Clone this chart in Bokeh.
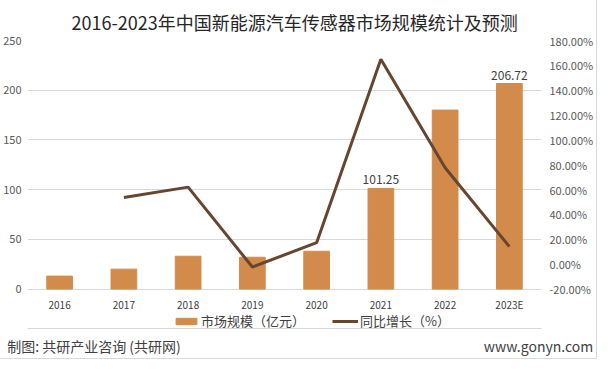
from bokeh.plotting import figure
from bokeh.models import (Range1d, LinearAxis, CategoricalAxis, FixedTicker, PrintfTickFormatter,
                          Legend, LegendItem, ColumnDataSource, FactorRange)
from bokeh.core.properties import value
from bokeh.embed import file_html
from bokeh.resources import INLINE

# ---- data ----
years = ["2016", "2017", "2018", "2019", "2020", "2021", "2022", "2023E"]
market_size = [13, 20, 33, 32, 38, 101.25, 180, 206.72]          # 亿元
growth_years = ["2017", "2018", "2019", "2020", "2021", "2022", "2023E"]
growth_pct = [53.6, 62.0, -2.3, 17.3, 165.0, 77.6, 14.1]          # %
label_years = ["2021", "2023E"]
label_values = [101.25, 206.72]
left_ticks = [0, 50, 100, 150, 200, 250]
right_ticks = [-20, 0, 20, 40, 60, 80, 100, 120, 140, 160, 180]

TITLE = "2016-2023年中国新能源汽车传感器市场规模统计及预测"
BAR_NAME = "市场规模（亿元）"
LINE_NAME = "同比增长（%）"
SOURCE = "制图: 共研产业咨询 (共研网)"
SITE = "www.gonyn.com"
BAR_C = "#D38B4C"
LINE_C = "#654630"
FONT = "Noto Sans CJK SC"

# footer slots: blank placeholders put the two footer texts at the left and right ends
footer_factors = [" "] + [SOURCE] + [" " * (i + 2) for i in range(6)] + [SITE]

# the frame reaches down to the footer line; the value axes stay 0..250 / -20..180 %
p = figure(width=596, height=358, x_range=FactorRange(*years, range_padding=0),
           y_range=Range1d(-39.7, 250), output_backend="svg", toolbar_location=None,
           min_border_left=26, min_border_right=51, min_border_top=38, min_border_bottom=28)
p.extra_y_ranges = {"pct": Range1d(-51.75, 180)}
p.extra_x_ranges = {"foot": FactorRange(*footer_factors, factor_padding=30.8,
                                        range_padding=1, range_padding_units="absolute")}
p.outline_line_color = None
p.border_fill_color = "white"
p.styles = {"outline": "1px solid #d9d9d9"}

p.title.text = TITLE
p.title.align = "left"
p.title.offset = 44
p.title.text_font_size = "18px"
p.title.text_font_style = "normal"
p.title.text_color = "#262626"
p.title.text_font = FONT
p.title.standoff = 12

bars = p.vbar(x=years, top=market_size, width=0.4, color=BAR_C)
line = p.line(x=growth_years, y=growth_pct, y_range_name="pct", line_color=LINE_C, line_width=3)

lsrc = ColumnDataSource(dict(x=label_years, y=label_values, t=[f"{v:.2f}" for v in label_values]))
p.text(x="x", y="y", text="t", source=lsrc, text_align="center", text_baseline="bottom",
       y_offset=-4, text_font_size="12px", text_color="#404040", text_font=value(FONT))

for ax in (p.xaxis, p.yaxis):
    ax.axis_line_color = None
    ax.major_tick_line_color = None
    ax.minor_tick_line_color = None
    ax.major_tick_out = 0
    ax.major_tick_in = 0
    ax.axis_label_standoff = 0

p.xaxis.fixed_location = 0
p.xaxis.major_label_text_font_size = "10px"
p.xaxis.major_label_text_color = "#404040"
p.xaxis.major_label_text_font = FONT
p.xaxis.major_label_standoff = 8

p.yaxis.ticker = FixedTicker(ticks=left_ticks)
p.yaxis.major_label_text_font_size = "11px"
p.yaxis.major_label_text_color = "#595959"
p.yaxis.major_label_text_font = FONT
p.yaxis.major_label_standoff = 6

ra = LinearAxis(y_range_name="pct", ticker=FixedTicker(ticks=right_ticks),
                formatter=PrintfTickFormatter(format="%.2f%%"))
ra.axis_line_color = None
ra.major_tick_line_color = None
ra.minor_tick_line_color = None
ra.major_tick_out = 0
ra.major_tick_in = 0
ra.axis_label_standoff = 0
ra.major_label_text_font_size = "11px"
ra.major_label_text_color = "#595959"
ra.major_label_text_font = FONT
ra.major_label_standoff = 8
p.add_layout(ra, "right")

p.xgrid.grid_line_color = None
p.ygrid.ticker = FixedTicker(ticks=left_ticks)
p.ygrid.grid_line_color = "#d9d9d9"
p.ygrid.grid_line_width = 1

legend = Legend(items=[LegendItem(label=BAR_NAME, renderers=[bars]),
                       LegendItem(label=LINE_NAME, renderers=[line])],
                orientation="horizontal", location=(146, -2),
                glyph_width=26, glyph_height=8, label_standoff=2, spacing=27,
                padding=0, margin=0, border_line_color=None, background_fill_alpha=0,
                label_text_font_size="13px", label_text_color="#404040", label_text_font=FONT)
p.add_layout(legend, "center")

# footer: source note and site as labels of a bottom axis whose line is the separator
fa = CategoricalAxis(x_range_name="foot")
fa.axis_line_color = "#d9d9d9"
fa.major_tick_line_color = None
fa.minor_tick_line_color = None
fa.major_tick_out = 0
fa.major_tick_in = 0
fa.axis_label_standoff = 0
fa.major_label_standoff = 7
fa.major_label_text_font_size = "14px"
fa.major_label_text_color = "#404040"
fa.major_label_text_font = FONT
p.add_layout(fa, "below")

open("out.html", "w").write(file_html(p, INLINE))
